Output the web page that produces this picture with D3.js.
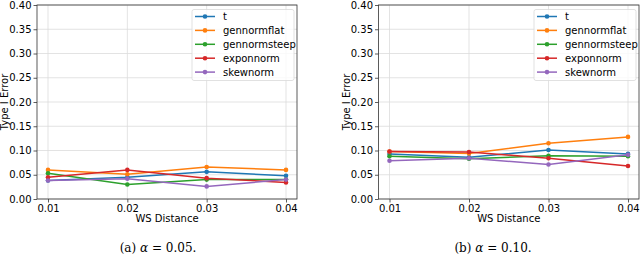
<!DOCTYPE html>
<html>
<head>
<meta charset="utf-8">
<script src="https://cdn.jsdelivr.net/npm/d3@7"></script>
<style>
  body { margin: 0; background: #fff; }
  text { font-family: "DejaVu Sans", sans-serif; fill: #000; }
  .caption { font-family: "DejaVu Serif", "Liberation Serif", serif; }
</style>
</head>
<body>
<svg id="chart" width="640" height="258"></svg>
<script>
// data
var distances = [0.01, 0.02, 0.03, 0.04];
var seriesNames = ["t", "gennormflat", "gennormsteep", "exponnorm", "skewnorm"];
var colors = ["#1f77b4", "#ff7f0e", "#2ca02c", "#d62728", "#9467bd"];
var yTicks = [0.00, 0.05, 0.10, 0.15, 0.20, 0.25, 0.30, 0.35, 0.40];

// alpha = 0.05
var errA_t = [0.038, 0.045, 0.056, 0.048];
var errA_flat = [0.060, 0.051, 0.066, 0.060];
var errA_steep = [0.053, 0.030, 0.040, 0.040];
var errA_expon = [0.045, 0.060, 0.043, 0.034];
var errA_skew = [0.038, 0.042, 0.026, 0.040];

// alpha = 0.10
var errB_t = [0.093, 0.086, 0.101, 0.093];
var errB_flat = [0.098, 0.094, 0.115, 0.128];
var errB_steep = [0.088, 0.083, 0.089, 0.088];
var errB_expon = [0.098, 0.097, 0.084, 0.068];
var errB_skew = [0.079, 0.084, 0.071, 0.091];

var svg = d3.select("#chart");

function drawPanel(box, series, caption) {
    var x = d3.scaleLinear()
        .domain([0.01, 0.04])
        .range([box.x0 + 11, box.x1 - 11]);
    var y = d3.scaleLinear().domain([0, 0.4]).range([box.y1, box.y0]);

    var g = svg.append("g");

    // grid
    g.selectAll(".gx").data(distances).enter().append("line")
        .attr("x1", function(d) { return x(d); })
        .attr("x2", function(d) { return x(d); })
        .attr("y1", box.y0).attr("y2", box.y1)
        .style("stroke", "#dcdcdc").style("stroke-width", 0.8);
    g.selectAll(".gy").data(yTicks).enter().append("line")
        .attr("x1", box.x0).attr("x2", box.x1)
        .attr("y1", function(d) { return y(d); })
        .attr("y2", function(d) { return y(d); })
        .style("stroke", "#dcdcdc").style("stroke-width", 0.8);

    // axes
    var xAxis = d3.axisBottom(x).tickValues(distances).tickFormat(d3.format(".2f")).tickSize(3.5).tickPadding(2);
    var yAxis = d3.axisLeft(y).tickValues(yTicks).tickFormat(d3.format(".2f")).tickSize(3.5).tickPadding(2);
    var gx = g.append("g").attr("transform", "translate(0," + box.y1 + ")").call(xAxis);
    var gy = g.append("g").attr("transform", "translate(" + box.x0 + ",0)").call(yAxis);
    [gx, gy].forEach(function(a) {
        a.select(".domain").remove();
        a.selectAll("text").style("font-size", "10px").style("font-family", "DejaVu Sans");
        a.selectAll("line").style("stroke", "#333").style("stroke-width", 0.8);
    });

    // lines
    var line = d3.line()
        .x(function(d, i) { return x(distances[i]); })
        .y(function(d) { return y(d); });
    series.forEach(function(vals, k) {
        g.append("path").datum(vals)
            .attr("d", line)
            .style("fill", "none")
            .style("stroke", colors[k])
            .style("stroke-width", 1.5);
        g.selectAll(".m" + k).data(vals).enter().append("circle")
            .attr("cx", function(d, i) { return x(distances[i]); })
            .attr("cy", function(d) { return y(d); })
            .attr("r", 2.3)
            .style("fill", colors[k]);
    });

    // frame
    g.append("rect")
        .attr("x", box.x0).attr("y", box.y0)
        .attr("width", box.x1 - box.x0).attr("height", box.y1 - box.y0)
        .style("fill", "none").style("stroke", "#333").style("stroke-width", 0.8);

    // legend
    var lg = g.append("g").attr("transform", "translate(" + (box.x1 - 105) + "," + (box.y0 + 4.5) + ")");
    lg.append("rect")
        .attr("x", 0).attr("y", 0).attr("width", 102).attr("height", 71)
        .attr("rx", 2)
        .style("fill", "#fff").style("fill-opacity", 0.8)
        .style("stroke", "#d9d9d9").style("stroke-width", 0.8);
    seriesNames.forEach(function(name, k) {
        var ly = 7 + k * 13.9;
        lg.append("line")
            .attr("x1", 3).attr("x2", 23).attr("y1", ly).attr("y2", ly)
            .style("stroke", colors[k]).style("stroke-width", 1.5);
        lg.append("circle").attr("cx", 13).attr("cy", ly).attr("r", 2.3).style("fill", colors[k]);
        lg.append("text").attr("x", 31).attr("y", ly).attr("dy", "0.35em")
            .style("font-size", "10px").text(name);
    });

    // labels
    g.append("text")
        .attr("x", (box.x0 + box.x1) / 2).attr("y", 222)
        .attr("text-anchor", "middle").style("font-size", "10px")
        .text("WS Distance");
    g.append("text")
        .attr("transform", "translate(" + (box.x0 - 29) + "," + ((box.y0 + box.y1) / 2) + ") rotate(-90)")
        .attr("text-anchor", "middle").style("font-size", "10px")
        .text("Type I Error");

    var cap = g.append("text").attr("class", "caption")
        .attr("x", box.cx).attr("y", 252)
        .attr("text-anchor", "middle").style("font-size", "12px");
    cap.append("tspan").text(caption[0] + " ");
    cap.append("tspan").style("font-style", "italic").text("α");
    cap.append("tspan").text(" = " + caption[1] + ".");
}

drawPanel({ x0: 37, x1: 297, y0: 5, y1: 199, cx: 158 },
    [errA_t, errA_flat, errA_steep, errA_expon, errA_skew], ["(a)", "0.05"]);
drawPanel({ x0: 378.5, x1: 639, y0: 5, y1: 199, cx: 493 },
    [errB_t, errB_flat, errB_steep, errB_expon, errB_skew], ["(b)", "0.10"]);
</script>
</body>
</html>
